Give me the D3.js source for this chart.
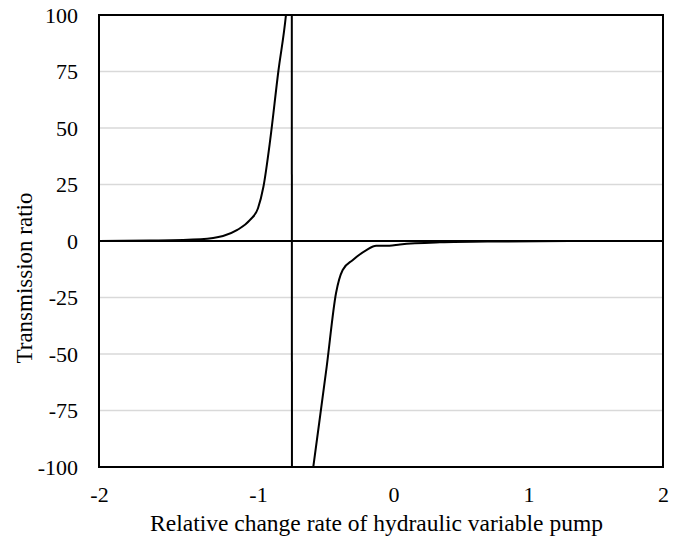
<!DOCTYPE html>
<html>
<head>
<meta charset="utf-8">
<script src="https://cdn.jsdelivr.net/npm/d3@7"></script>
<style>
  body { margin: 0; background: #fff; }
</style>
</head>
<body>
<div id="root"></div>
<script>
// values
const xTicks = [-2, -1, 0, 1, 2];
const yTicks = [-100, -75, -50, -25, 0, 25, 50, 75, 100];

// branch left of the asymptote
const leftRate = [-2, -1.68, -1.36, -1.22, -1.13, -1.05, -1.0, -0.96, -0.91, -0.85, -0.793, -0.775];
const leftRatio = [0, 0.2, 0.8, 2.2, 4.9, 9.3, 14.5, 24, 44.7, 75, 100.4, 112];

// the jump across the asymptote
const jumpRate = [-0.752, -0.748];
const jumpRatio = [400, -400];

// branch right of the asymptote
const rightRate = [-0.64, -0.592, -0.493, -0.424, -0.375, -0.30, -0.20, -0.128, -0.03, 0.048, 0.344, 0.79, 1.3, 2];
const rightRatio = [-122, -100, -55.6, -23, -12.8, -8.4, -4, -2.1, -2.1, -1.5, -0.6, -0.2, 0, 0];

const serif = '"Liberation Serif"';
const width = 681;
const height = 542;
const plot = { left: 99, right: 663, top: 15, bottom: 467 };

// the reference axis is not evenly spaced, so map each tick to where it sits
const x = d3
  .scaleLinear()
  .domain(xTicks)
  .range([plot.left, 258, 393.5, 528.5, plot.right]);
const y = d3.scaleLinear().domain([-100, 100]).range([plot.bottom, plot.top]);

const svg = d3
  .select("#root")
  .append("svg")
  .attr("width", width)
  .attr("height", height);

svg
  .append("defs")
  .append("clipPath")
  .attr("id", "clip")
  .append("rect")
  .attr("x", plot.left)
  .attr("y", plot.top)
  .attr("width", plot.right - plot.left)
  .attr("height", plot.bottom - plot.top);

// gridlines
svg
  .append("g")
  .selectAll("line")
  .data(yTicks.filter((d) => d !== 0 && Math.abs(d) !== 100))
  .enter()
  .append("line")
  .attr("x1", plot.left)
  .attr("x2", plot.right)
  .attr("y1", (d) => y(d))
  .attr("y2", (d) => y(d))
  .attr("stroke", "#d9d9d9")
  .attr("stroke-width", 1.5);

// zero line
svg
  .append("line")
  .attr("x1", plot.left)
  .attr("x2", plot.right)
  .attr("y1", y(0))
  .attr("y2", y(0))
  .attr("stroke", "#000")
  .attr("stroke-width", 2);

const zip = (a, b) => a.map((d, i) => [d, b[i]]);
const series = [
  { pts: zip(leftRate, leftRatio), curve: d3.curveMonotoneX },
  { pts: zip(jumpRate, jumpRatio), curve: d3.curveLinear },
  { pts: zip(rightRate, rightRatio), curve: d3.curveMonotoneX },
];

svg
  .append("g")
  .attr("clip-path", "url(#clip)")
  .selectAll("path")
  .data(series)
  .enter()
  .append("path")
  .attr("fill", "none")
  .attr("stroke", "#000")
  .attr("stroke-width", 2)
  .attr("d", (s) =>
    d3
      .line()
      .x((d) => x(d[0]))
      .y((d) => y(d[1]))
      .curve(s.curve)(s.pts)
  );

// frame
svg
  .append("rect")
  .attr("x", plot.left)
  .attr("y", plot.top)
  .attr("width", plot.right - plot.left)
  .attr("height", plot.bottom - plot.top)
  .attr("fill", "none")
  .attr("stroke", "#000")
  .attr("stroke-width", 2);

// axes
const yAxis = d3
  .axisLeft(y)
  .tickValues(yTicks)
  .tickSize(0)
  .tickPadding(21)
  .tickFormat((d) => String(d));
const xAxis = d3
  .axisBottom(x)
  .tickValues(xTicks)
  .tickSize(0)
  .tickPadding(19)
  .tickFormat((d) => String(d));

svg
  .append("g")
  .attr("transform", `translate(${plot.left},0)`)
  .call(yAxis)
  .call((g) => g.select(".domain").remove())
  .selectAll("text")
  .style("font-family", serif)
  .style("font-size", "22px")
  .style("fill", "#000");

svg
  .append("g")
  .attr("transform", `translate(0,${plot.bottom})`)
  .call(xAxis)
  .call((g) => g.select(".domain").remove())
  .selectAll("text")
  .style("font-family", serif)
  .style("font-size", "22px")
  .style("fill", "#000");

svg
  .append("text")
  .attr("x", 376.5)
  .attr("y", 531)
  .attr("text-anchor", "middle")
  .style("font-family", serif)
  .style("font-size", "23.5px")
  .text("Relative change rate of hydraulic variable pump");

svg
  .append("text")
  .attr("transform", "translate(32,278) rotate(-90)")
  .attr("text-anchor", "middle")
  .style("font-family", serif)
  .style("font-size", "23px")
  .text("Transmission ratio");
</script>
</body>
</html>
